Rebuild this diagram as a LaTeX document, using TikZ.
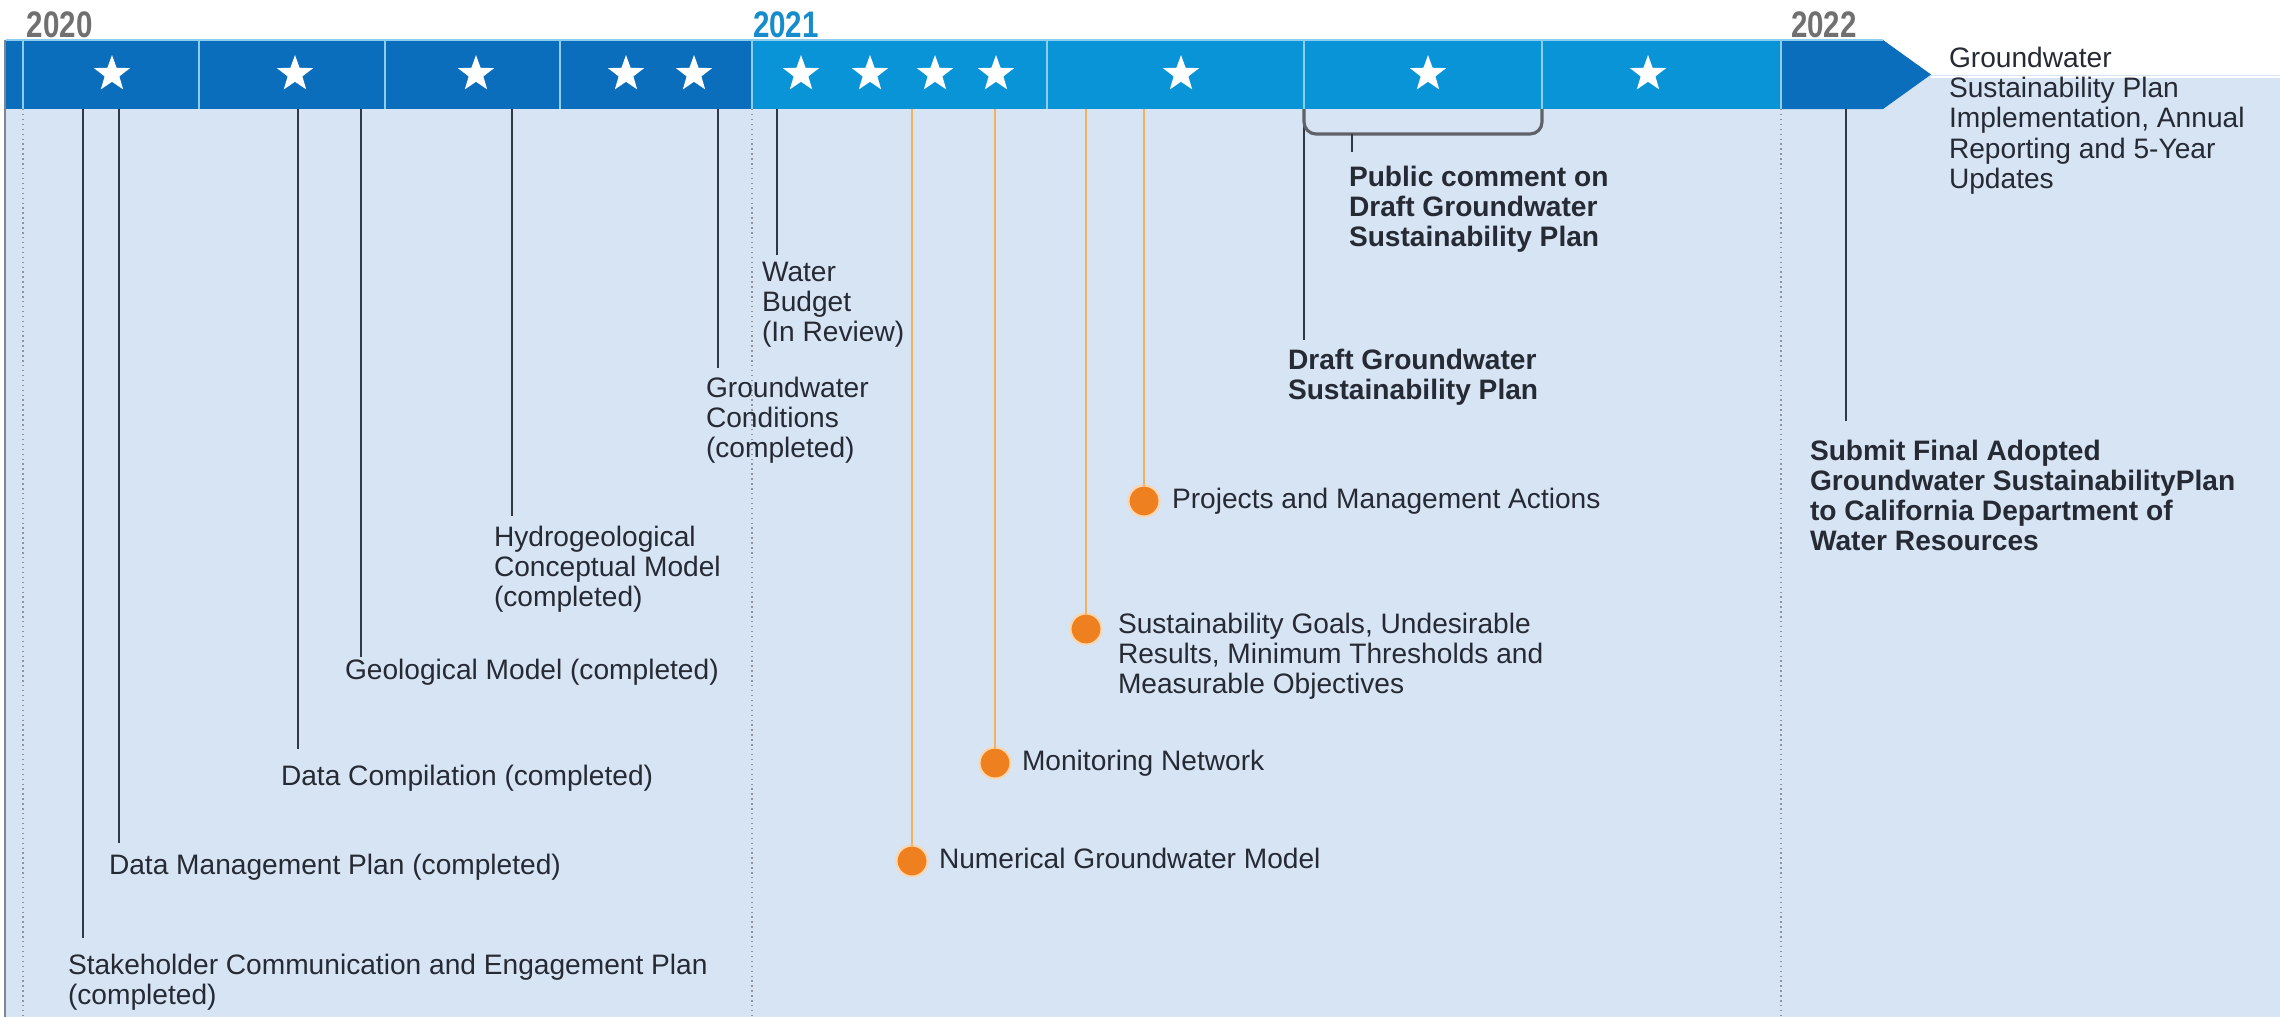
\documentclass[tikz,border=0pt]{standalone}
\usepackage{fontspec}
\setmainfont{Liberation Sans}
\usetikzlibrary{shapes.geometric}
\definecolor{barDark}{RGB}{10,110,189}
\definecolor{barLight}{RGB}{9,148,216}
\definecolor{bgBlue}{RGB}{214,228,244}
\definecolor{txt}{RGB}{38,42,52}
\definecolor{mlineC}{RGB}{50,55,66}
\definecolor{olineC}{RGB}{242,178,92}
\definecolor{dotOr}{RGB}{239,128,32}
\definecolor{dotRing}{RGB}{252,214,176}
\definecolor{yrGray}{RGB}{112,112,112}
\definecolor{yrBlue}{RGB}{22,140,204}
\definecolor{dotGray}{RGB}{145,148,158}
\definecolor{divC}{RGB}{140,205,240}
\definecolor{brkC}{RGB}{95,98,105}
\definecolor{frameC}{RGB}{125,135,148}
\newcommand{\yrtext}[1]{\scalebox{0.8}[1]{#1}}
\begin{document}
\begin{tikzpicture}[x=0.01cm,y=-0.01cm,
  every node/.style={inner sep=0pt,outer sep=0pt},
  lab/.style={align=left,anchor=north west,text=txt,font=\fontsize{8}{8.6}\selectfont},
  labb/.style={lab,font=\fontsize{8}{8.5}\selectfont\bfseries},
  lab1/.style={anchor=base west,text=txt,font=\fontsize{8}{8.6}\selectfont},
  yr/.style={anchor=base west,font=\fontsize{10.5}{10.5}\selectfont\bfseries},
  starmk/.style={star,star points=5,star point ratio=2.45,fill=white,minimum size=0.38cm},
  dotmk/.style={circle,fill=dotOr,draw=dotRing,line width=0.6pt,minimum size=0.31cm},
  mline/.style={draw=mlineC,line width=0.6pt},
  oline/.style={draw=olineC,line width=0.6pt},
  yline/.style={draw=dotGray,line width=0.4pt,densely dotted},
  divline/.style={draw=divC,line width=0.5pt}]
\useasboundingbox (0,0) rectangle (2280,1017);
\fill[white] (0,0) rectangle (2280,1017);
% background panel
\fill[bgBlue] (5,75) rectangle (2280,1017);
\draw[white,line width=0.6pt] (1931,77) -- (2280,77);
\draw[frameC,line width=0.6pt] (5,40) -- (5,1017);
% year dotted lines
\coordinate (y0a) at (23,109); \coordinate (y0b) at (23,1017);
\coordinate (y1a) at (752,109); \coordinate (y1b) at (752,1017);
\coordinate (y2a) at (1781,109); \coordinate (y2b) at (1781,1017);
\draw[yline] (y0a) -- (y0b);
\draw[yline] (y1a) -- (y1b);
\draw[yline] (y2a) -- (y2b);
% bar
\fill[barDark] (6,40) rectangle (752,109);
\fill[barLight] (752,40) rectangle (1781,109);
\fill[barDark] (1781,40) -- (1883,40) -- (1931,74.5) -- (1883,109) -- (1781,109) -- cycle;
\draw[divC,line width=0.4pt] (6,40) -- (1883,40);
\foreach \xx in {23,199,385,560,752,1047,1304,1542,1781}
  \draw[divline] (\xx,40) -- (\xx,109);
% years
\node[yr,text=yrGray] (yr20) at (27,37) {\yrtext{2020}};
\node[yr,text=yrBlue] (yr21) at (753,37) {\yrtext{2021}};
\node[yr,text=yrGray] (yr22) at (1791,37) {\yrtext{2022}};
% stars
\node[starmk] (s1) at (112,74) {};
\node[starmk] (s2) at (295,74) {};
\node[starmk] (s3) at (476,74) {};
\node[starmk] (s4) at (626,74) {};
\node[starmk] (s5) at (694,74) {};
\node[starmk] (s6) at (801,74) {};
\node[starmk] (s7) at (870,74) {};
\node[starmk] (s8) at (935,74) {};
\node[starmk] (s9) at (996,74) {};
\node[starmk] (s10) at (1181,74) {};
\node[starmk] (s11) at (1428,74) {};
\node[starmk] (s12) at (1648,74) {};
% milestone labels (black)
\node[lab] (stake) at (68,954) {Stakeholder Communication and Engagement Plan\\(completed)};
\node[lab1] (dmp) at (109,874) {Data Management Plan (completed)};
\node[lab1] (dcomp) at (281,785) {Data Compilation (completed)};
\node[lab1] (geo) at (345,679) {Geological Model (completed)};
\node[lab] (hydro) at (494,526) {Hydrogeological\\Conceptual Model\\(completed)};
\node[lab] (gwc) at (706,377) {Groundwater\\Conditions\\(completed)};
\node[lab] (wb) at (762,262) {Water\\Budget\\(In Review)};
\node[labb] (draft) at (1288,349) {Draft Groundwater\\Sustainability Plan};
\node[labb] (pub) at (1349,166) {Public comment on\\Draft Groundwater\\Sustainability Plan};
\node[labb] (submit) at (1810,440) {Submit Final Adopted\\Groundwater SustainabilityPlan\\to California Department of\\Water Resources};
\node[lab] (impl) at (1949,47) {Groundwater\\Sustainability Plan\\Implementation, Annual\\Reporting and 5-Year\\Updates};
% milestone lines
\coordinate (m1a) at (83,109);   \coordinate (m1b) at (83,938);
\coordinate (m2a) at (119,109);  \coordinate (m2b) at (119,843);
\coordinate (m3a) at (298,109);  \coordinate (m3b) at (298,749);
\coordinate (m4a) at (361,109);  \coordinate (m4b) at (361,657);
\coordinate (m5a) at (512,109);  \coordinate (m5b) at (512,516);
\coordinate (m6a) at (718,109);  \coordinate (m6b) at (718,368);
\coordinate (m7a) at (777,109);  \coordinate (m7b) at (777,255);
\coordinate (m8a) at (1304,109); \coordinate (m8b) at (1304,340);
\coordinate (m9a) at (1846,109); \coordinate (m9b) at (1846,421);
\draw[mline] (m1a) -- (m1b);
\draw[mline] (m2a) -- (m2b);
\draw[mline] (m3a) -- (m3b);
\draw[mline] (m4a) -- (m4b);
\draw[mline] (m5a) -- (m5b);
\draw[mline] (m6a) -- (m6b);
\draw[mline] (m7a) -- (m7b);
\draw[mline] (m8a) -- (m8b);
\draw[mline] (m9a) -- (m9b);
% bracket for public comment
\coordinate (brL) at (1304,109); \coordinate (brR) at (1542,109);
\draw[brkC,line width=0.9pt,rounded corners=0.12cm] (brL) -- (1304,134) -- (1542,134) -- (brR);
\coordinate (tk1) at (1352,134); \coordinate (tk2) at (1352,152);
\draw[mline] (tk1) -- (tk2);
% orange milestones
\node[dotmk] (d1) at (912,861) {};
\node[dotmk] (d2) at (995,763) {};
\node[dotmk] (d3) at (1086,629) {};
\node[dotmk] (d4) at (1144,501) {};
\coordinate (o1) at (912,109);
\coordinate (o2) at (995,109);
\coordinate (o3) at (1086,109);
\coordinate (o4) at (1144,109);
\draw[oline] (o1) -- (d1.north);
\draw[oline] (o2) -- (d2.north);
\draw[oline] (o3) -- (d3.north);
\draw[oline] (o4) -- (d4.north);
\node[lab1] (numl) at (939,868) {Numerical Groundwater Model};
\node[lab1] (monl) at (1022,770) {Monitoring Network};
\node[lab] (susl) at (1118,613) {Sustainability Goals, Undesirable\\Results, Minimum Thresholds and\\Measurable Objectives};
\node[lab1] (projl) at (1172,508) {Projects and Management Actions};
\end{tikzpicture}
\end{document}
